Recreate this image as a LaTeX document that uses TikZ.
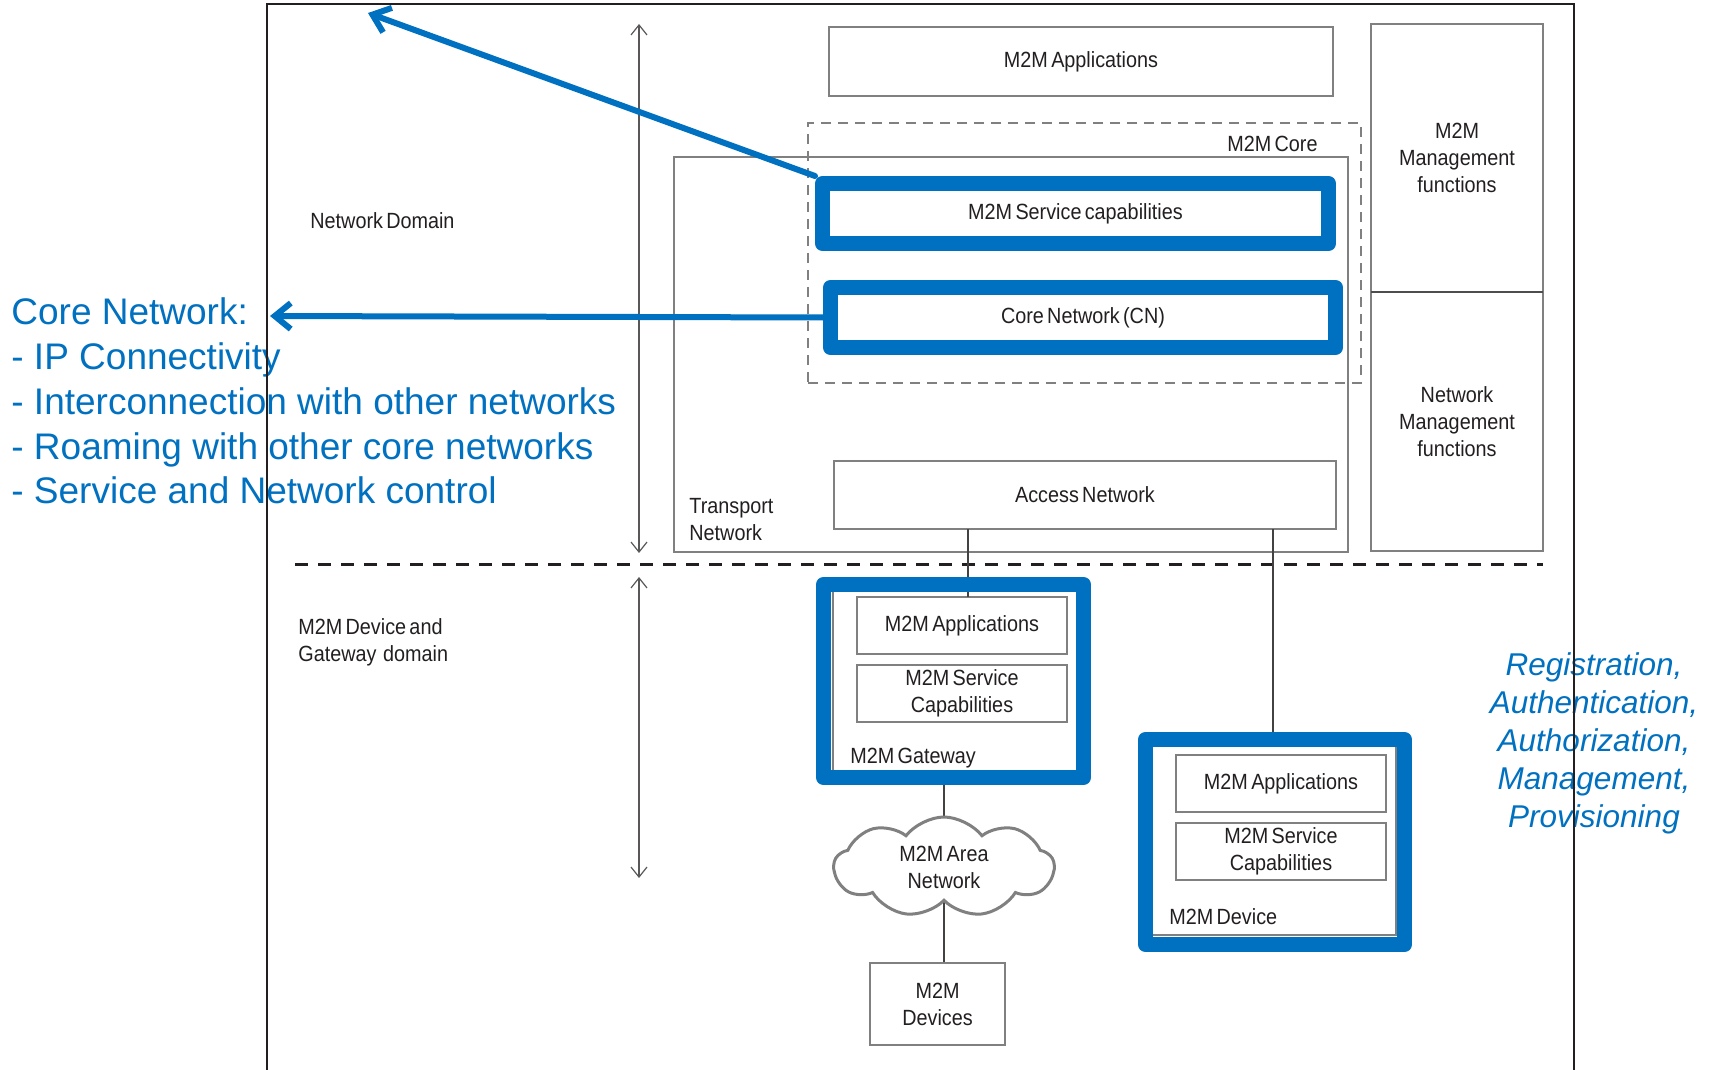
\documentclass[tikz,border=0pt]{standalone}
\usepackage{fontspec}
\setmainfont{Liberation Sans}
\newfontfamily\narrowfont[FakeStretch=0.9,WordSpace=0.6]{Liberation Sans}
\usepackage{xcolor}
\usepackage{tikz}
\usetikzlibrary{arrows.meta,shapes.symbols,positioning,backgrounds}
\definecolor{callout}{RGB}{0,112,192}
\definecolor{boxline}{RGB}{128,128,128}
\definecolor{ink}{RGB}{35,31,32}
\tikzstyle{txt} = [font={\narrowfont\fontsize{11}{13.5}\selectfont}, text=ink, inner sep=0pt]
\tikzstyle{box} = [txt, draw=boxline, line width=1.2pt, fill=white, align=center, inner sep=2pt, outer sep=0pt]
\tikzstyle{coredash} = [draw=boxline, line width=1.2pt, dash pattern=on 5pt off 3.5pt]
\tikzstyle{hilite} = [txt, draw=callout, line width=7.5pt, line join=round, align=center]
\tikzstyle{area} = [txt, cloud, cloud puffs=9, cloud puff arc=105, aspect=2.3, draw=boxline, line width=1.5pt, fill=white, align=center, minimum width=110pt, minimum height=50pt]
\tikzstyle{wire} = [draw=ink!85, line width=0.8pt]
\tikzstyle{span} = [{Straight Barb[length=5pt,width=8pt]}-{Straight Barb[length=5pt,width=8pt]}, draw=ink!75, line width=0.6pt]
\tikzstyle{domsep} = [draw=ink, line width=1.5pt, dash pattern=on 6.5pt off 5pt]
\tikzstyle{outline} = [draw=ink, line width=0.8pt]
\tikzstyle{divider} = [draw=ink!80, line width=1.2pt]
\tikzstyle{callarrow} = [-{Straight Barb[length=8pt,width=13pt]}, draw=callout, line width=3pt, line cap=round]
\tikzstyle{note} = [text=callout, inner sep=0pt]

\begin{document}
\begin{tikzpicture}[x=0.5pt, y=-0.5pt, node distance=34pt]
	\useasboundingbox (0,0) rectangle (1710,1070);

	\node[note, font=\fontsize{18.5}{22.4}\selectfont, anchor=west, align=left] (cnnote) at (11,401) {Core Network:\\- IP Connectivity\\- Interconnection with other networks\\- Roaming with other core networks\\- Service and Network control};
	\node[note, font=\itshape\fontsize{15.75}{19}\selectfont, align=center] (regnote) at (1594,743) {Registration,\\Authentication,\\Authorization,\\Management,\\Provisioning};

	\draw[outline] (267,1080) |- (1574,4) -- (1574,1080);
	\draw[domsep] (295,564) -- (1543,564);

	\coordinate (nwtop) at (639,24);
	\coordinate (nwbot) at (639,553);
	\coordinate (dgtop) at (639,577);
	\coordinate (dgbot) at (639,878);
	\draw[span] (nwtop) -- (nwbot);
	\draw[span] (dgtop) -- (dgbot);

	\node[txt, anchor=west] (nwdomain) at (310,221) {Network Domain};
	\node[txt, anchor=west, align=left] (dgdomain) at (298,642) {M2M Device and\\Gateway\ \ domain};

	\node[box, minimum width=252pt, minimum height=34.5pt] (nwapps) at (1081,61.5) {M2M Applications};
	\node[box, minimum width=86pt, minimum height=134pt] (mgmt) at (1457,158) {M2M\\Management\\functions};
	\node[box, minimum width=86pt, minimum height=129.5pt, below=0pt of mgmt] (nwmgmt) {Network\\Management\\functions};
	\draw[divider] (mgmt.south west) -- (mgmt.south east);

	\node[box, minimum width=337pt, minimum height=197.5pt] (transport) at (1011,354.5) {};
	\node[txt, anchor=west, align=left] (tnlabel) at (689,519.5) {Transport\\Network};
	\node[coredash, minimum width=276.5pt, minimum height=130pt] (core) at (1084.5,253) {};
	\node[txt, anchor=east] (corelabel) at (1318,144) {M2M Core};
	\node[box, minimum width=251pt, minimum height=34pt] (access) at (1085,495) {Access Network};

	\node[box, minimum width=123.5pt, minimum height=91pt] (gwframe) at (956.5,681) {};
	\node[box, minimum width=123pt, minimum height=95.5pt] (devframe) at (1273,839.5) {};
	\node[box, minimum width=105pt, minimum height=28.5pt] (gwapps) at (962,625.5) {M2M Applications};
	\node[box, minimum width=105pt, minimum height=28.5pt, below of=gwapps] (gwsc) {M2M Service\\Capabilities};
	\node[txt, anchor=west] (gwlabel) at (850,758) {M2M Gateway};
	\node[box, minimum width=105pt, minimum height=28.5pt] (devapps) at (1281,783.5) {M2M Applications};
	\node[box, minimum width=105pt, minimum height=28.5pt, below of=devapps] (devsc) {M2M Service\\Capabilities};
	\node[txt, anchor=west] (devlabel) at (1169,917) {M2M Device};
	\node[area] (area) at (944,867) {M2M Area\\Network};
	\node[box, minimum width=67.5pt, minimum height=41pt] (devices) at (937.5,1004) {M2M\\Devices};

	\draw[wire] ([xshift=3pt]gwapps.north |- access.south) -- ([xshift=3pt]gwapps.north);
	\draw[wire] (devframe.north |- access.south) -- (devframe.north);
	\begin{scope}[on background layer]
		\draw[wire] (area.center |- gwframe.south) -- (area.center);
		\draw[wire] (area.center) -- (area.center |- devices.north);
	\end{scope}

	\node[hilite, minimum width=253pt, minimum height=30pt] (sc) at (1075.5,213.5) {M2M Service capabilities};
	\node[hilite, minimum width=252.5pt, minimum height=30pt] (cn) at (1083,317.5) {Core Network (CN)};
	\node[hilite, minimum width=130pt, minimum height=96.5pt] (gateway) at (953.5,681) {};
	\node[hilite, minimum width=129.5pt, minimum height=102.5pt] (device) at (1275,842) {};

	\coordinate (sctip) at (368,13);
	\coordinate (cntip) at (270,316);
	\draw[callarrow] (sc.north west) -- (sctip);
	\draw[callarrow] (cn.west) -- (cntip);
\end{tikzpicture}
\end{document}
